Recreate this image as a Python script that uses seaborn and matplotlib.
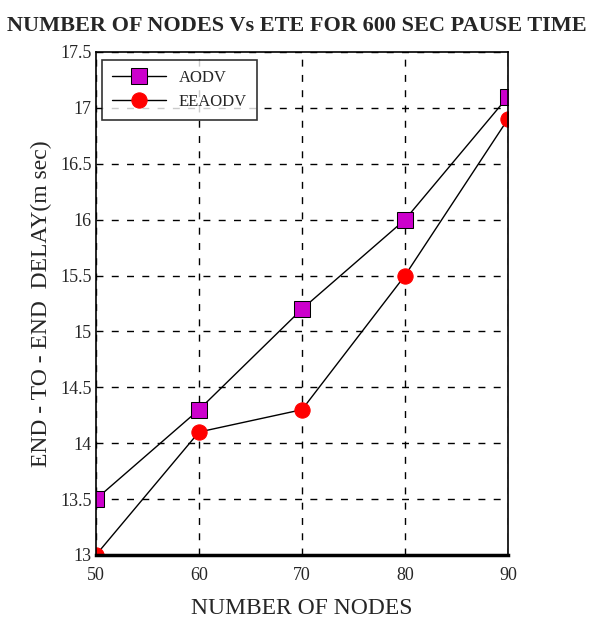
import pandas as pd
import seaborn as sns
import matplotlib.pyplot as plt

# Data
nodes = [50, 60, 70, 80, 90]
aodv = [13.5, 14.3, 15.2, 16.0, 17.1]
eeaodv = [13.0, 14.1, 14.3, 15.5, 16.9]
y_ticks = [13, 13.5, 14, 14.5, 15, 15.5, 16, 16.5, 17, 17.5]
y_tick_labels = ["13", "13.5", "14", "14.5", "15", "15.5", "16", "16.5", "17", "17.5"]

df = pd.DataFrame({"nodes": nodes * 2,
                   "delay": aodv + eeaodv,
                   "protocol": ["AODV"] * 5 + ["EEAODV"] * 5})

sns.set_style("white")
plt.rcParams['font.family'] = ['Liberation Serif', 'DejaVu Serif']

fig = plt.figure(figsize=(5.94, 6.24), dpi=100)
ax = fig.add_axes([0.1616, 0.1106, 0.6936, 0.8061])

sns.lineplot(data=df[df.protocol == "AODV"], x="nodes", y="delay", ax=ax,
             color="black", linewidth=1.0, marker="s", markersize=11,
             markerfacecolor="#cc00cc", markeredgecolor="black", label="AODV")
sns.lineplot(data=df[df.protocol == "EEAODV"], x="nodes", y="delay", ax=ax,
             color="black", linewidth=1.0, marker="o", markersize=11,
             markerfacecolor="red", markeredgecolor="red", label="EEAODV")

ax.set_xlim(50, 90)
ax.set_ylim(13, 17.5)
ax.set_xticks(nodes)
ax.set_xticklabels([str(n) for n in nodes], fontsize=13)
ax.set_yticks(y_ticks)
ax.set_yticklabels(y_tick_labels, fontsize=13)
ax.tick_params(axis="y", length=3, direction="in", pad=3)
ax.tick_params(axis="x", length=3, direction="in", pad=9)
ax.grid(True, color="black", linestyle=(0, (5, 6)), linewidth=1.0)

for s in ax.spines.values():
    s.set_color("black")
    s.set_linewidth(1.2)
ax.spines["bottom"].set_linewidth(2.5)

ax.set_xlabel("NUMBER OF NODES", fontsize=17, labelpad=10)
ax.set_ylabel("END - TO - END  DELAY(m sec)", fontsize=17, labelpad=6)
fig.suptitle("NUMBER OF NODES Vs ETE FOR 600 SEC PAUSE TIME", fontsize=16,
             fontweight="bold", y=0.975)

leg = ax.legend(loc="upper left", fontsize=12, frameon=True, fancybox=False,
                handlelength=3.2, borderpad=0.6, labelspacing=0.5,
                borderaxespad=0, bbox_to_anchor=(0.015, 0.985))
leg.get_frame().set_edgecolor("black")
leg.get_frame().set_linewidth(1.2)

fig.savefig("out.png", dpi=100, facecolor="white")
